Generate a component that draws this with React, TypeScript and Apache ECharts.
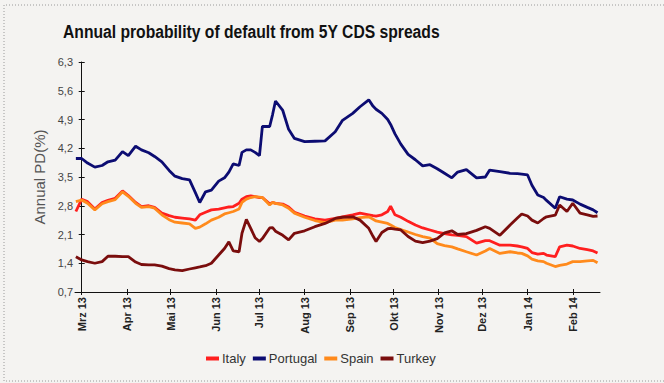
import React, { useEffect, useRef } from "react";
import * as echarts from "echarts";

// Day offsets from 1 March 2013
const dayOffsets = [-4, 0, 4, 9, 14, 18, 23, 28, 32, 37, 41, 46, 50, 55, 60, 64, 69, 74, 78, 81, 85, 89, 94, 98, 101, 104, 108, 110, 113, 116, 119, 122, 124, 129, 131, 133, 138, 142, 146, 153, 160, 167, 174, 179, 186, 191, 197, 200, 202, 206, 210, 212, 215, 219, 224, 229, 234, 239, 244, 249, 254, 258, 264, 271, 277, 280, 287, 294, 299, 302, 306, 309, 313, 317, 319, 325, 328, 333, 337, 342, 347, 351, 354];

const italy = [2.66, 2.96, 2.9, 2.72, 2.88, 2.93, 2.98, 3.16, 3.05, 2.88, 2.78, 2.8, 2.76, 2.62, 2.56, 2.52, 2.5, 2.48, 2.45, 2.58, 2.64, 2.7, 2.72, 2.75, 2.77, 2.78, 2.86, 2.96, 3.02, 3.04, 3.02, 3.0, 3.0, 2.85, 2.88, 2.86, 2.84, 2.77, 2.64, 2.55, 2.48, 2.45, 2.49, 2.53, 2.58, 2.62, 2.58, 2.56, 2.55, 2.58, 2.66, 2.79, 2.58, 2.52, 2.42, 2.33, 2.26, 2.21, 2.16, 2.12, 2.09, 2.08, 2.05, 1.89, 1.95, 1.95, 1.84, 1.84, 1.82, 1.8, 1.76, 1.66, 1.62, 1.64, 1.6, 1.56, 1.8, 1.84, 1.82, 1.76, 1.73, 1.7, 1.65];

const portugal = [3.95, 3.95, 3.84, 3.74, 3.78, 3.87, 3.91, 4.12, 4.02, 4.25, 4.16, 4.09, 4.0, 3.87, 3.66, 3.52, 3.46, 3.43, 3.12, 2.88, 3.14, 3.18, 3.4, 3.48, 3.62, 3.82, 3.78, 4.1, 4.16, 4.16, 4.1, 4.02, 4.73, 4.73, 5.02, 5.35, 5.12, 4.66, 4.44, 4.36, 4.37, 4.38, 4.6, 4.88, 5.05, 5.21, 5.38, 5.22, 5.15, 5.05, 4.9, 4.78, 4.55, 4.3, 4.05, 3.92, 3.77, 3.8, 3.7, 3.59, 3.48, 3.62, 3.68, 3.48, 3.5, 3.67, 3.63, 3.59, 3.58, 3.57, 3.55, 3.3, 3.06, 3.0, 2.93, 2.74, 3.02, 2.96, 2.94, 2.84, 2.76, 2.7, 2.63];

const spain = [2.9, 2.94, 2.86, 2.7, 2.85, 2.9, 2.95, 3.14, 3.03, 2.86, 2.76, 2.78, 2.74, 2.58, 2.46, 2.4, 2.38, 2.36, 2.25, 2.28, 2.36, 2.45, 2.52, 2.6, 2.63, 2.66, 2.72, 2.88, 2.96, 3.0, 3.02, 3.01, 3.0, 2.82, 2.88, 2.86, 2.82, 2.74, 2.62, 2.52, 2.44, 2.39, 2.45, 2.45, 2.48, 2.51, 2.53, 2.47, 2.43, 2.4, 2.37, 2.33, 2.27, 2.22, 2.16, 2.1, 2.05, 2.01, 1.88, 1.83, 1.8, 1.75, 1.68, 1.6, 1.7, 1.76, 1.64, 1.68, 1.65, 1.64, 1.58, 1.5, 1.46, 1.44, 1.4, 1.32, 1.35, 1.38, 1.44, 1.44, 1.46, 1.47, 1.41];

const turkey = [1.56, 1.48, 1.44, 1.4, 1.44, 1.57, 1.57, 1.56, 1.56, 1.43, 1.37, 1.36, 1.36, 1.33, 1.27, 1.24, 1.22, 1.26, 1.29, 1.31, 1.34, 1.4, 1.6, 1.76, 1.92, 1.7, 1.68, 2.13, 2.47, 2.25, 2.02, 1.93, 2.0, 2.26, 2.27, 2.18, 2.08, 1.97, 2.13, 2.19, 2.29, 2.37, 2.49, 2.52, 2.53, 2.45, 2.25, 2.05, 1.93, 2.15, 2.24, 2.25, 2.23, 2.21, 2.05, 1.94, 1.9, 1.94, 2.0, 2.14, 2.19, 2.1, 2.12, 2.2, 2.29, 2.25, 2.08, 2.33, 2.5, 2.6, 2.55, 2.45, 2.38, 2.49, 2.53, 2.57, 2.82, 2.66, 2.86, 2.62, 2.58, 2.54, 2.55];

const seriesNames = ["Italy", "Portugal", "Spain", "Turkey"];
const seriesColors = ["#ff1f1f", "#0c0c72", "#ff8a1c", "#7a0d0d"];

const monthStarts = [0, 31, 61, 92, 122, 153, 184, 214, 245, 275, 306, 337];
const monthLabels = ["Mrz 13", "Apr 13", "Mai 13", "Jun 13", "Jul 13", "Aug 13", "Sep 13", "Okt 13", "Nov 13", "Dez 13", "Jan 14", "Feb 14"];

const yTicks = [0.7, 1.4, 2.1, 2.8, 3.5, 4.2, 4.9, 5.6, 6.3];

const X_MIN = -4.6;
const X_MAX = 355.7;

export default function App() {
  const ref = useRef<HTMLDivElement>(null);

  useEffect(() => {
    document.body.style.margin = "0";
    if (!ref.current) return;
    const chart = echarts.init(ref.current, null, { renderer: "svg" });
    const values = [italy, portugal, spain, turkey];
    const font = "'Liberation Sans', Arial, sans-serif";

    const fmtY = (v: number) => {
      const t = yTicks.find((k) => Math.abs(k - v) < 1e-6);
      return t === undefined ? "" : t.toFixed(1).replace(".", ",");
    };
    const fmtX = (v: number) => {
      const i = monthStarts.findIndex((m) => Math.abs(m - v) < 1e-6);
      return i < 0 ? "" : monthLabels[i];
    };

    chart.setOption({
      animation: false,
      backgroundColor: "#f4f3f1",
      textStyle: { fontFamily: font },
      grid: { left: 75, right: 64, top: 62, bottom: 91, containLabel: false },
      graphic: [
        {
          type: "polyline",
          shape: { points: [[664, 5], [4, 5], [4, 381], [664, 381]] },
          style: { stroke: "#9a9a9a", lineWidth: 1, lineDash: [1, 2], fill: null },
          silent: true,
        },
        {
          type: "text",
          x: 63,
          y: 31,
          scaleX: 0.825,
          style: {
            text: "Annual probability of default from 5Y CDS spreads",
            font: "bold 19px 'Liberation Sans', Arial, sans-serif",
            fill: "#111",
            textAlign: "left",
            textVerticalAlign: "middle",
          },
        },
      ],
      legend: {
        data: seriesNames,
        left: 201,
        top: 347,
        icon: "rect",
        itemWidth: 13,
        itemHeight: 4,
        itemGap: 7,
        textStyle: { fontSize: 13, color: "#333", fontFamily: font, padding: [0, 0, 0, -2] },
      },
      xAxis: [
        {
          type: "value",
          min: X_MIN,
          max: X_MAX,
          splitLine: { show: false },
          axisLine: { show: true, lineStyle: { color: "#111", width: 1 } },
          axisTick: { show: true, length: 3, customValues: monthStarts, lineStyle: { color: "#111" } },
          axisLabel: {
            customValues: monthStarts,
            rotate: 90,
            margin: 5,
            fontSize: 11,
            fontWeight: "bold",
            color: "#222",
            fontFamily: font,
            formatter: fmtX,
          },
        },
        {
          type: "value",
          min: X_MIN,
          max: X_MAX,
          position: "bottom",
          splitLine: { show: false },
          axisLine: { show: false },
          axisTick: { show: true, inside: true, length: 3, customValues: monthStarts, lineStyle: { color: "#111" } },
          axisLabel: { show: false },
        },
      ],
      yAxis: [
        {
          type: "value",
          min: 0.7,
          max: 6.3,
          name: "Annual PD(%)",
          nameLocation: "middle",
          nameGap: 26,
          nameTextStyle: { fontSize: 15, color: "#555", fontFamily: font },
          splitLine: { show: false },
          axisLine: { show: true, lineStyle: { color: "#111", width: 1 } },
          axisTick: { show: true, length: 3, customValues: yTicks, lineStyle: { color: "#111" } },
          axisLabel: {
            customValues: yTicks,
            margin: 2,
            fontSize: 11,
            color: "#444",
            fontFamily: font,
            formatter: fmtY,
          },
        },
        {
          type: "value",
          min: 0.7,
          max: 6.3,
          position: "left",
          splitLine: { show: false },
          axisLine: { show: false },
          axisTick: { show: true, inside: true, length: 3, customValues: yTicks, lineStyle: { color: "#111" } },
          axisLabel: { show: false },
        },
      ],
      series: seriesNames.map((name, s) => ({
        name,
        type: "line",
        showSymbol: false,
        symbol: "none",
        color: seriesColors[s],
        lineStyle: { width: 2.8, color: seriesColors[s] },
        data: dayOffsets.map((d, i) => [d, values[s][i]]),
      })),
    });

    return () => chart.dispose();
  }, []);

  return <div ref={ref} style={{ width: 664, height: 383 }} />;
}
